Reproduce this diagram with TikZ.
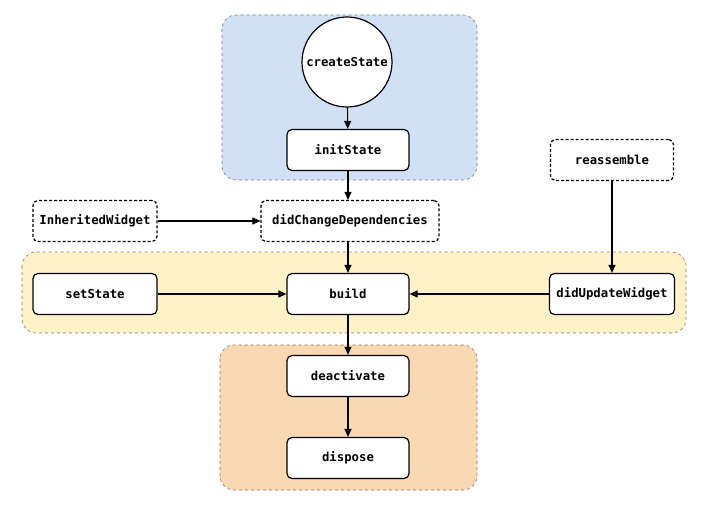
\documentclass[tikz,border=0pt]{standalone}
\usepackage{fontspec}
\setmonofont{DejaVu Sans Mono}
\usetikzlibrary{arrows.meta}
\definecolor{regblue}{HTML}{D2E0F6}
\definecolor{regyellow}{HTML}{FFF1C8}
\definecolor{regorange}{HTML}{F9D8B2}
\definecolor{regline}{HTML}{7A7A7A}
\begin{document}
\begin{tikzpicture}[x=1pt,y=-1pt,
  region/.style={draw=regline, dashed, line width=0.6pt, rounded corners=14pt},
  lbl/.style={font=\ttfamily\bfseries\fontsize{12.3}{14}\selectfont},
  stepbox/.style={draw=black, fill=white, line width=1.2pt, rounded corners=5pt, minimum width=122pt, minimum height=41pt, inner sep=0pt, lbl},
  optbox/.style={stepbox, dashed, dash pattern=on 3pt off 2pt},
  conn/.style={-{Triangle[length=8pt,width=7pt]}, line width=1.1pt}
]
\useasboundingbox (0,0) rectangle (705,513);
% regions
\draw[region, fill=regblue] (222,15) rectangle (477,180);
\draw[region, fill=regyellow] (22,252) rectangle (686,333);
\draw[region, fill=regorange] (220,345) rectangle (477,490);
% nodes
\node[draw=black, fill=white, line width=1.2pt, circle, minimum size=90pt, inner sep=0pt, lbl] (create) at (347,62) {createState};
\node[stepbox] (init) at (348,150) {initState};
\node[optbox, minimum width=178pt] (dcd) at (350,221) {didChangeDependencies};
\node[optbox, minimum width=124pt] (inh) at (95,221) {InheritedWidget};
\node[optbox, minimum width=123pt] (reas) at (612,160) {reassemble};
\node[stepbox, minimum width=124pt] (set) at (95,294) {setState};
\node[stepbox] (build) at (348,294) {build};
\node[stepbox, minimum width=125pt] (dup) at (612,294) {didUpdateWidget};
\node[stepbox] (deact) at (348,376) {deactivate};
\node[stepbox] (disp) at (348,458) {dispose};
% connectors
\draw[conn] (create) -- (init);
\draw[conn] (init) -- (init |- dcd.north);
\draw[conn] (dcd) -- (dcd.south -| build) -- (build);
\draw[conn] (inh) -- (dcd);
\draw[conn] (set) -- (build);
\draw[conn] (dup) -- (build);
\draw[conn] (reas) -- (dup);
\draw[conn] (build) -- (deact);
\draw[conn] (deact) -- (disp);
\end{tikzpicture}
\end{document}
